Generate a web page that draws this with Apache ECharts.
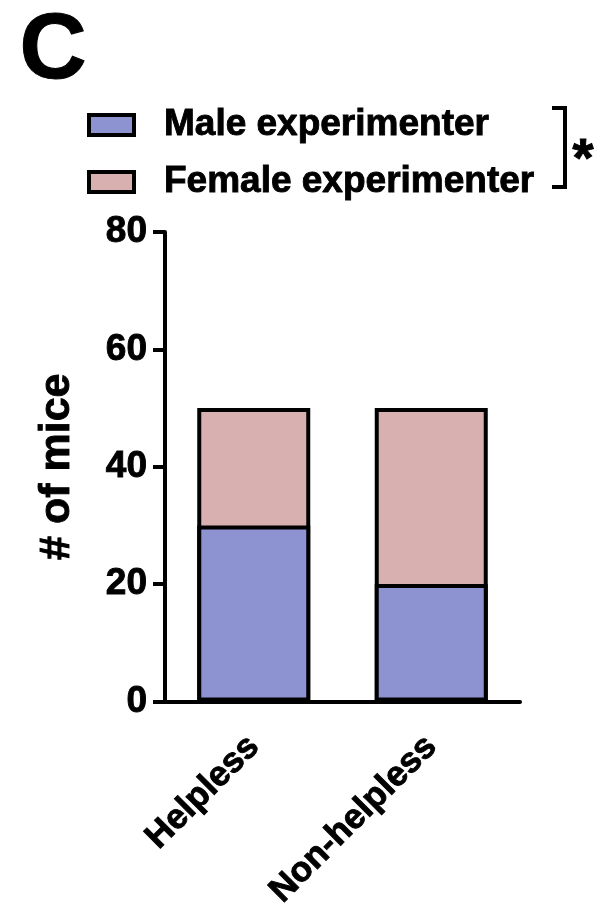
<!DOCTYPE html>
<html>
<head>
<meta charset="utf-8">
<script src="https://cdn.jsdelivr.net/npm/echarts@6/dist/echarts.min.js"></script>
<style>
  html, body { margin: 0; padding: 0; background: #fff; }
  #chart { width: 606px; height: 912px; }
</style>
</head>
<body>
<div id="chart"></div>
<script>
// Group outcomes and counts per experimenter sex
const categories = ['Helpless', 'Non-helpless'];
const maleCounts = [30, 20];
const femaleCounts = [20, 30];
const seriesNames = ['Male experimenter', 'Female experimenter'];
const yTicks = { min: 0, max: 80, interval: 20 };

const FONT = '"Liberation Sans", Arial, Helvetica, sans-serif';
const INK = '#000';
const MALE_COLOR = '#8C93D0';
const FEMALE_COLOR = '#D7B0AF';

// Bold text with a thin same-colour outline for heavier strokes
const heavy = (size) => ({
  fontFamily: FONT, fontWeight: 'bold', fontSize: size, color: INK,
  textBorderColor: INK, textBorderWidth: 0.9
});

// The female segment sits on top of the male one: draw the full column
// (male + female) in the female colour behind the male column, so the
// boundary between the two segments is a single outline.
const columnTotals = maleCounts.map((m, i) => m + femaleCounts[i]);

const chart = echarts.init(document.getElementById('chart'), null, { renderer: 'canvas' });

const barStyle = (color) => ({ color: color, borderColor: INK, borderWidth: 4 });

chart.setOption({
  backgroundColor: '#fff',
  animation: false,
  grid: { left: 165, right: 86, top: 232, bottom: 207, containLabel: false },
  legend: {
    orient: 'vertical',
    left: 87,
    top: 105,
    padding: 0,
    itemWidth: 45,
    itemHeight: 20,
    itemGap: 17,
    icon: 'rect',
    itemStyle: { borderColor: INK, borderWidth: 4 },
    textStyle: Object.assign(heavy(37), { lineHeight: 40, padding: [0, 0, 0, 25] }),
    data: seriesNames
  },
  xAxis: {
    type: 'category',
    data: categories,
    axisLine: { lineStyle: { color: INK, width: 4 } },
    axisTick: { alignWithLabel: true, length: 14, lineStyle: { color: INK, width: 4 } },
    axisLabel: Object.assign({ rotate: 45, margin: 40 }, heavy(35))
  },
  yAxis: {
    type: 'value',
    min: yTicks.min, max: yTicks.max, interval: yTicks.interval,
    name: '# of mice',
    nameLocation: 'middle',
    nameRotate: 90,
    nameGap: 86,
    nameTextStyle: heavy(43),
    axisLine: { show: true, lineStyle: { color: INK, width: 4 } },
    axisTick: { show: true, length: 12, lineStyle: { color: INK, width: 4 } },
    splitLine: { show: false },
    axisLabel: Object.assign({ margin: 18 }, heavy(37))
  },
  series: [
    {
      name: seriesNames[0], type: 'bar', z: 3,
      barWidth: 113, barGap: '-100%', data: maleCounts, itemStyle: barStyle(MALE_COLOR)
    },
    {
      name: seriesNames[1], type: 'bar', z: 2,
      barWidth: 113, barGap: '-100%', data: columnTotals, itemStyle: barStyle(FEMALE_COLOR)
    }
  ],
  graphic: [
    // panel letter
    {
      type: 'text', left: 19, top: 5,
      style: { text: 'C', fontFamily: FONT, fontWeight: 'bold', fontSize: 93, fill: INK,
               stroke: INK, lineWidth: 1 }
    },
    // significance bracket between the two legend entries
    {
      type: 'polyline',
      shape: { points: [[552, 108], [565, 108], [565, 187], [552, 187]] },
      style: { stroke: INK, lineWidth: 4, fill: null }
    },
    {
      type: 'text', left: 572, top: 134,
      style: { text: '*', fontFamily: FONT, fontWeight: 'bold', fontSize: 54, fill: INK,
               stroke: INK, lineWidth: 1 }
    }
  ]
});
</script>
</body>
</html>
